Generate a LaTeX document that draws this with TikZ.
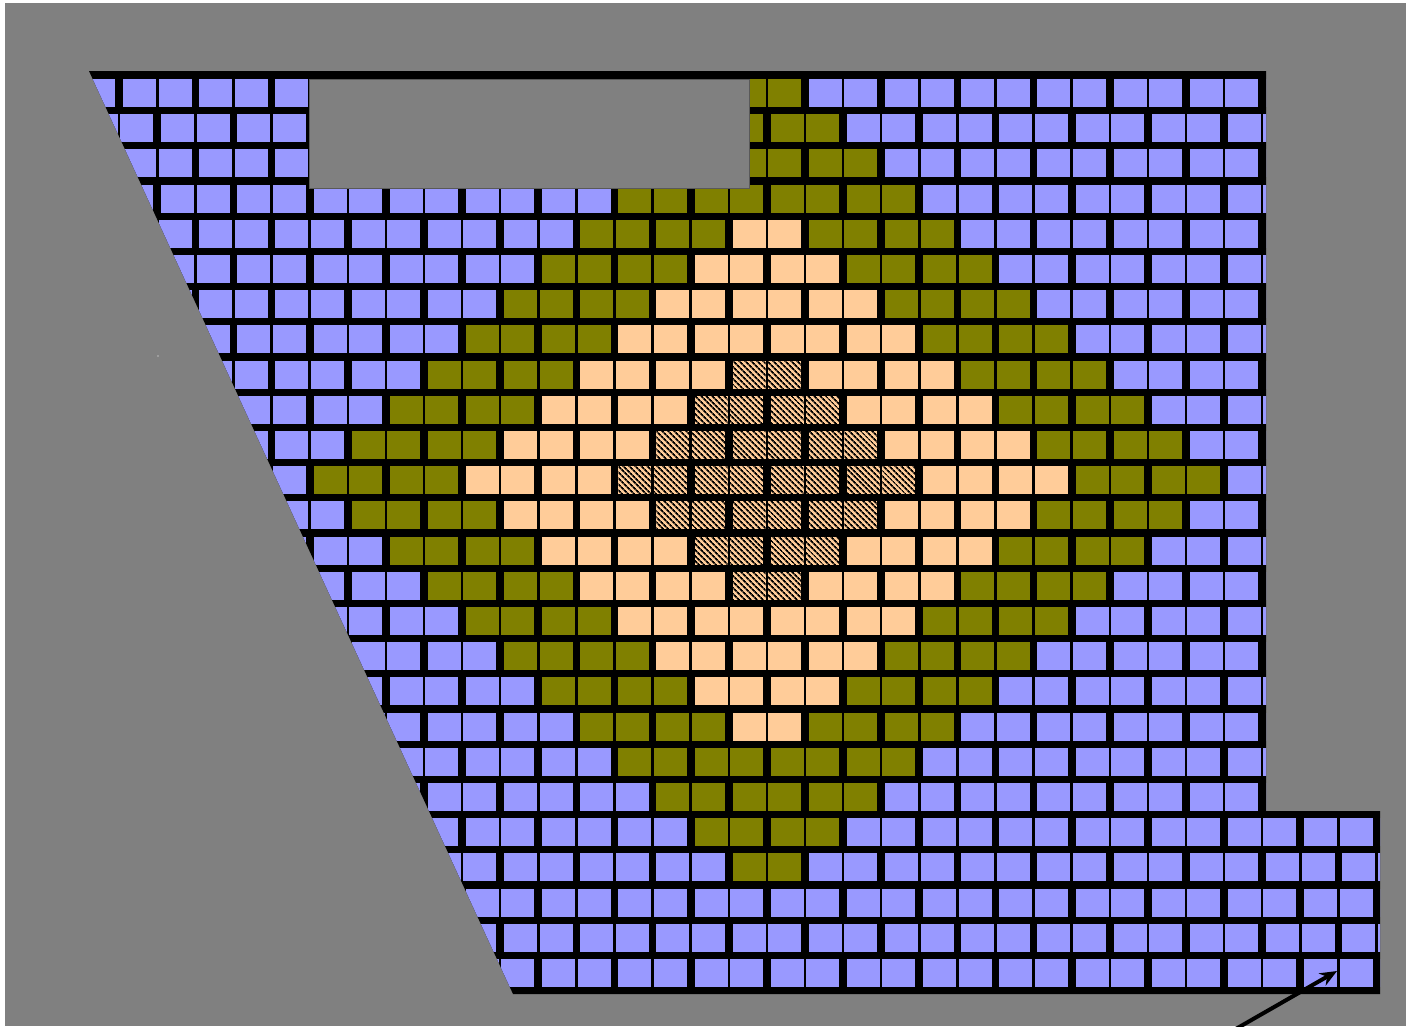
\documentclass[tikz,border=0pt]{standalone}
\usetikzlibrary{patterns.meta,arrows.meta}
\definecolor{bgray}{HTML}{808080}
\definecolor{cblue}{HTML}{9999FF}
\definecolor{colive}{HTML}{808000}
\definecolor{cpeach}{HTML}{FFCC99}
\newcommand\mypair[3]{%
  \path[#1] (#2,#3) rectangle ++(33,28);
  \path[#1] ({#2+35.5},#3) rectangle ++(33,28);}
\begin{document}
\begin{tikzpicture}[x=1pt,y=-1pt,
  bluecell/.style={fill=cblue},
  olivecell/.style={fill=colive},
  peachcell/.style={fill=cpeach},
  hatchcell/.style={fill=cpeach,postaction={pattern={Lines[angle=-45,distance=4pt,line width=1.8pt]}}},
  holebox/.style={fill=bgray,draw=black!65,line width=1pt},
  pointer/.style={line width=4pt,-{Stealth[length=17pt,width=14pt]}}]
\clip (0,0) rectangle (1406,1026);
\fill[white] (0,0) rectangle (1406,1026);
\fill[bgray] (5,3) rectangle (1406,1026);
% black board
\fill[black] (89,71) -- (1266,71) -- (1266,811) -- (1380,811) -- (1380,994) -- (513,994) -- cycle;
\begin{scope}
\clip (89,71) -- (1266,71) -- (1266,811) -- (1380,811) -- (1380,994) -- (513,994) -- cycle;
\foreach \r in {1,...,26}{
  \pgfmathtruncatemacro{\rodd}{mod(\r,2)}
  \pgfmathsetmacro{\ytop}{79+35.2*(\r-1)}
  \foreach \k in {-2,...,16}{
    \ifnum\rodd=1
      \pgfmathsetmacro{\xz}{123+76.2*\k}
      \pgfmathtruncatemacro{\mypp}{abs(2*(\k-8))}
    \else
      \pgfmathsetmacro{\xz}{161.1+76.2*\k}
      \pgfmathtruncatemacro{\mypp}{abs(2*(\k-8)+1)}
    \fi
    \pgfmathtruncatemacro{\mydd}{\mypp+abs(\r-12)}
    \ifnum\mydd<4
      \mypair{hatchcell}{\xz}{\ytop}
    \else\ifnum\mydd<8
      \mypair{peachcell}{\xz}{\ytop}
    \else\ifnum\mydd<12
      \mypair{olivecell}{\xz}{\ytop}
    \else
      \mypair{bluecell}{\xz}{\ytop}
    \fi\fi\fi
  }
}
\end{scope}
% gray hole at the top
\path[holebox] (309,79) rectangle (749,188);
% tiny dot
\fill[white] (158,356) circle (0.7);
% arrow
\coordinate (arrowtail) at (1220,1038);
\coordinate (arrowtip) at (1337,971);
\draw[pointer] (arrowtail) -- (arrowtip);
\end{tikzpicture}
\end{document}
